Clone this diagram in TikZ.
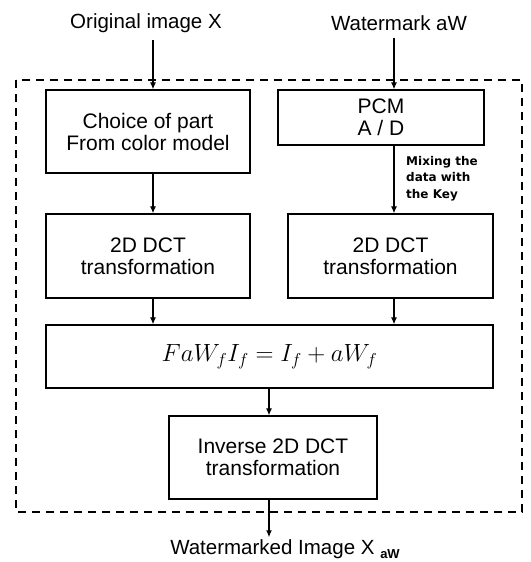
\documentclass[tikz,border=0pt]{standalone}
\usepackage{fontspec}
\setmainfont{Liberation Sans}
\newfontfamily\keyfont{DejaVu Sans}
\usepackage{amsmath}
\usetikzlibrary{arrows.meta}

\tikzset{
  block/.style={draw, line width=1.3pt, align=center, inner sep=0pt,
    font=\fontsize{21}{22}\selectfont},
  label/.style={align=center, inner sep=2pt, font=\fontsize{20.5}{22}\selectfont},
  arr/.style={line width=1.2pt, -{Latex[length=7pt,width=6pt]}}
}

\begin{document}
\begin{tikzpicture}[x=1pt,y=-1pt]

\useasboundingbox (0,0) rectangle (530,562);

% Abscissen der Pfeile
\def\xa{153}
\def\xb{394}
\def\xc{269}

% Eingaenge
\node[label] (orig) at (146,23) {Original image X};
\node[label] (wmark) at (399,23) {Watermark aW};

% Gestrichelter Rahmen
\draw[dashed, line width=1.3pt, dash pattern=on 8pt off 6pt] (16,80) rectangle (522,512);

% Bloecke
\node[block, minimum width=204pt, minimum height=83pt] (choice) at (148,131.5)
  {Choice of part\\From color model};
\node[block, minimum width=206pt, minimum height=55pt] (pcm) at (381,117.5)
  {PCM\\A / D};
\node[block, minimum width=204pt, minimum height=84pt] (dctl) at (148,256)
  {2D DCT\\transformation};
\node[block, minimum width=205pt, minimum height=84pt] (dctr) at (390.5,256)
  {2D DCT\\transformation};
\node[block, minimum width=447pt, minimum height=63pt] (mix) at (269.5,356.5)
  {\fontsize{24}{24}\selectfont$FaW_{f}I_{f}=I_{f}+aW_{f}$};
\node[block, minimum width=208pt, minimum height=83pt] (inv) at (273,457.5)
  {Inverse 2D DCT\\transformation};

% Ausgang
\node[label] (out) at (285,549)
  {Watermarked Image X \raisebox{-4pt}{\fontsize{13}{13}\selectfont\bfseries aW}};

% Schluessel
\node[align=left, anchor=north west, inner sep=0pt,
  font=\fontsize{12}{16.5}\keyfont\bfseries] (key) at (406,156)
  {Mixing the\\data with\\the Key};

% Pfeile
\draw[arr] (orig.south -| \xa,0) ++(0,5) -- (choice.north -| \xa,0);
\draw[arr] (wmark.south -| \xb,0) ++(0,5) -- (pcm.north -| \xb,0);
\draw[arr] (choice.south -| \xa,0) -- (dctl.north -| \xa,0);
\draw[arr] (pcm.south -| \xb,0) -- (dctr.north -| \xb,0);
\draw[arr] (dctl.south -| \xa,0) -- (mix.north -| \xa,0);
\draw[arr] (dctr.south -| \xb,0) -- (mix.north -| \xb,0);
\draw[arr] (mix.south -| \xc,0) -- (inv.north -| \xc,0);
\draw[arr] (inv.south -| \xc,0) -- (out.north -| \xc,0);

\end{tikzpicture}
\end{document}
